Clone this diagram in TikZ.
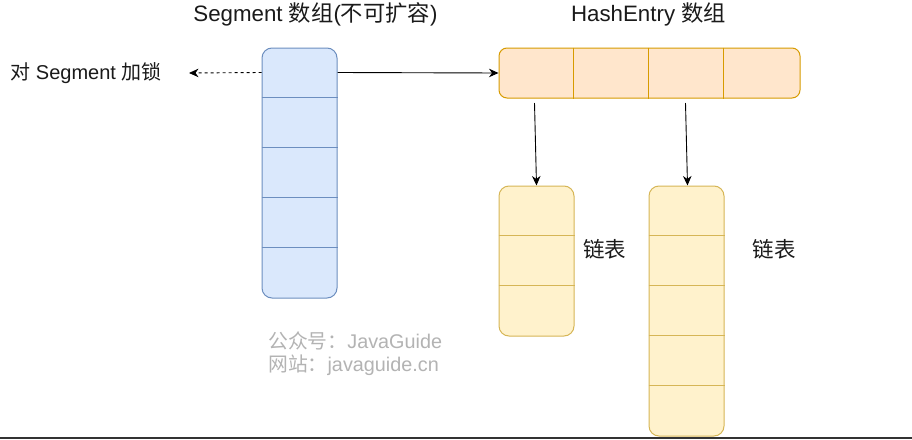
\documentclass[tikz,border=0pt]{standalone}
\usepackage{fontspec}
\setmainfont{Liberation Sans}
\newfontfamily\cjk{Noto Sans CJK SC}
\usetikzlibrary{arrows.meta,calc}
\definecolor{segfill}{HTML}{DAE8FC}
\definecolor{segdraw}{HTML}{6C8EBF}
\definecolor{hashfill}{HTML}{FFE6CC}
\definecolor{hashdraw}{HTML}{D79B00}
\definecolor{listfill}{HTML}{FFF2CC}
\definecolor{listdraw}{HTML}{D6B656}
\definecolor{wmgray}{HTML}{B3B3B3}
\definecolor{txt}{HTML}{1A1A1A}
\tikzset{
  arr/.style={-{Stealth[length=9.5pt,width=8.5pt,inset=3pt]}, line width=0.9pt, draw=black},
  segbox/.style={draw=segdraw, fill=segfill, line width=1pt, rounded corners=10pt, minimum width=75pt, minimum height=250pt, inner sep=0pt},
  hashbox/.style={draw=hashdraw, fill=hashfill, line width=1pt, rounded corners=8pt, minimum width=301pt, minimum height=50pt, inner sep=0pt},
  listbox/.style={draw=listdraw, fill=listfill, line width=1pt, rounded corners=10pt, minimum width=75pt, inner sep=0pt},
  lbl/.style={font=\fontsize{20}{24}\selectfont, text=txt, inner sep=0pt},
  ttl/.style={font=\fontsize{22.3}{26}\selectfont, text=txt, inner sep=0pt},
  wm/.style={font=\fontsize{19.8}{24}\selectfont, text=wmgray, inner sep=0pt, anchor=west}
}
\begin{document}
\begin{tikzpicture}[x=1pt,y=-1pt]
\useasboundingbox (0,0) rectangle (912,439);
\fill[white] (0,0) rectangle (912,439);
% titles
\node[ttl] (t1) at (315.5,14) {Segment {\cjk 数组}({\cjk 不可扩容})};
\node[ttl] (t2) at (648.5,14) {HashEntry {\cjk 数组}};
% segment array
\node[segbox] (seg) at (299.5,173) {};
\foreach \i in {1,...,4}
  \draw[segdraw, line width=1pt] ($(seg.north west)+(0,50*\i)$) -- ($(seg.north east)+(0,50*\i)$);
% hash entry array
\node[hashbox] (hash) at (649.5,73) {};
\foreach \i in {1,2,3}
  \draw[hashdraw, line width=1pt] ($(hash.north west)+(75*\i,0)$) -- ($(hash.south west)+(75*\i,0)$);
% linked lists
\node[listbox, minimum height=150pt] (l1) at (536.5,261) {};
\foreach \i in {1,2}
  \draw[listdraw, line width=1pt] ($(l1.north west)+(0,50*\i)$) -- ($(l1.north east)+(0,50*\i)$);
\node[listbox, minimum height=250pt] (l2) at (686.5,311) {};
\foreach \i in {1,...,4}
  \draw[listdraw, line width=1pt] ($(l2.north west)+(0,50*\i)$) -- ($(l2.north east)+(0,50*\i)$);
% labels
\node[lbl] (lock) at (86,73) {{\cjk 对} Segment {\cjk 加锁}};
\node[lbl, font=\cjk\fontsize{21.5}{24}\selectfont] (ll1) at (604.5,249) {链表};
\node[lbl, font=\cjk\fontsize{21.5}{24}\selectfont] (ll2) at (774,249) {链表};
% connectors
\coordinate (lockend) at (189,73);
\draw[arr, dashed, dash pattern=on 3pt off 3pt] ($(seg.north west)+(0,25)$) -- (lockend);
\draw[arr] ($(seg.north east)+(0,25)$) -- (hash.west);
\coordinate (h1) at (534.5,103);
\coordinate (h3) at (685.5,103);
\draw[arr] (h1) -- (l1.north);
\draw[arr] (h3) -- ($(l2.north)+(1,0)$);
% watermark
\node[wm] (wm1) at (268,341) {{\cjk 公众号：}JavaGuide};
\node[wm] (wm2) at (268,365) {{\cjk 网站：}javaguide.cn};
% bottom rule
\fill[black!80] (0,437) rectangle (912,439);
\end{tikzpicture}
\end{document}
